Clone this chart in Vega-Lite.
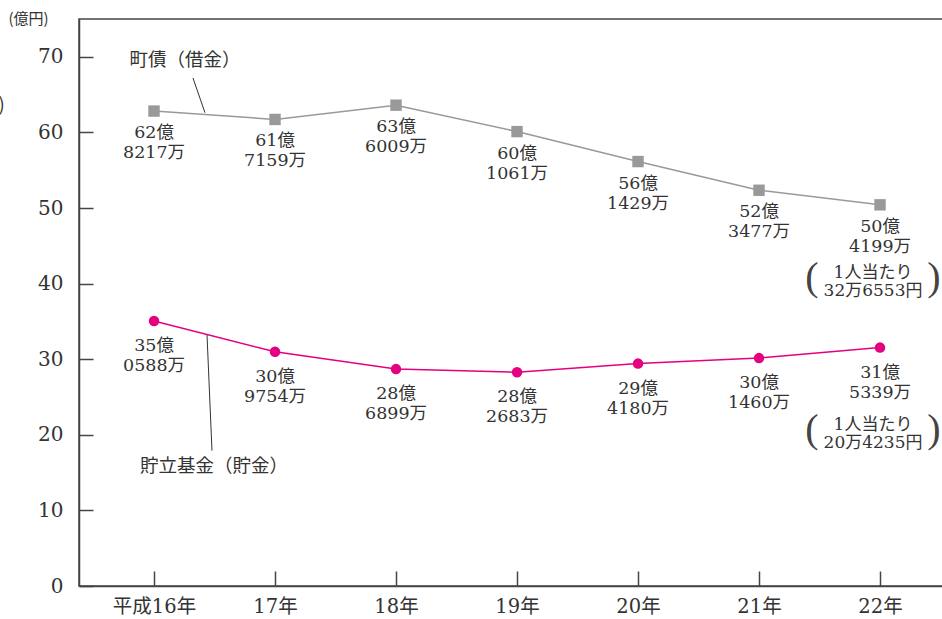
{
  "$schema": "https://vega.github.io/schema/vega-lite/v6.json",
  "width": 866,
  "height": 567,
  "autosize": {"type": "none"},
  "padding": {"left": 79, "top": 19, "right": 0, "bottom": 33},
  "background": "white",
  "config": {
    "view": {"stroke": "#444", "strokeWidth": 1.5},
    "font": "DejaVu Serif",
    "axis": {"domainColor": "#444", "domainWidth": 1.5, "tickColor": "#444", "tickWidth": 1.5, "grid": false, "labelColor": "#333", "labelFont": "DejaVu Serif, Noto Sans CJK JP"}
  },
  "datasets": {
    "main": [
      {"idx": 0, "year": "平成16年", "series": "町債", "value": 62.8217, "label": "62億\n8217万"},
      {"idx": 1, "year": "17年", "series": "町債", "value": 61.7159, "label": "61億\n7159万"},
      {"idx": 2, "year": "18年", "series": "町債", "value": 63.6009, "label": "63億\n6009万"},
      {"idx": 3, "year": "19年", "series": "町債", "value": 60.1061, "label": "60億\n1061万"},
      {"idx": 4, "year": "20年", "series": "町債", "value": 56.1429, "label": "56億\n1429万"},
      {"idx": 5, "year": "21年", "series": "町債", "value": 52.3477, "label": "52億\n3477万"},
      {"idx": 6, "year": "22年", "series": "町債", "value": 50.4199, "label": "50億\n4199万", "note": "1人当たり\n32万6553円"},
      {"idx": 0, "year": "平成16年", "series": "貯立基金", "value": 35.0588, "label": "35億\n0588万"},
      {"idx": 1, "year": "17年", "series": "貯立基金", "value": 30.9754, "label": "30億\n9754万"},
      {"idx": 2, "year": "18年", "series": "貯立基金", "value": 28.6899, "label": "28億\n6899万"},
      {"idx": 3, "year": "19年", "series": "貯立基金", "value": 28.2683, "label": "28億\n2683万"},
      {"idx": 4, "year": "20年", "series": "貯立基金", "value": 29.4180, "label": "29億\n4180万"},
      {"idx": 5, "year": "21年", "series": "貯立基金", "value": 30.1460, "label": "30億\n1460万"},
      {"idx": 6, "year": "22年", "series": "貯立基金", "value": 31.5339, "label": "31億\n5339万", "note": "1人当たり\n20万4235円"}
    ],
    "names": [
      {"name": "町債（借金）", "x": 0.256, "y": 69.6},
      {"name": "貯立基金（貯金）", "x": 0.496, "y": 15.9},
      {"name": ")", "x": -1.26, "y": 63.6}
    ],
    "leaders": [
      {"x": 0.322, "y": 67.2, "x2": 0.421, "y2": 62.6},
      {"x": 0.438, "y": 33.2, "x2": 0.479, "y2": 17.9}
    ]
  },
  "layer": [
    {
      "data": {"name": "main"},
      "mark": {"type": "line", "strokeWidth": 1.5},
      "encoding": {
        "x": {"field": "idx", "type": "quantitative", "scale": {"domain": [-0.62, 6.537], "nice": false, "zero": false},
          "axis": {"values": [0, 1, 2, 3, 4, 5, 6], "title": null, "tickSize": -15, "labelPadding": 26, "labelFontSize": 19.5,
            "labelExpr": "['平成16年','17年','18年','19年','20年','21年','22年'][datum.value]"}},
        "y": {"field": "value", "type": "quantitative", "scale": {"domain": [0, 75], "nice": false},
          "axis": {"values": [0, 10, 20, 30, 40, 50, 60, 70], "title": "(億円)", "titleAngle": 0, "titleAlign": "left", "titleBaseline": "middle", "titleX": -71, "titleY": -1, "titleFont": "Noto Sans CJK JP", "titleFontSize": 15, "titleFontWeight": "normal", "titleColor": "#333", "tickSize": -14, "labelPadding": 30, "labelFontSize": 20}},
        "color": {"field": "series", "type": "nominal", "scale": {"domain": ["町債", "貯立基金"], "range": ["#999999", "#e4007f"]}, "legend": null}
      }
    },
    {
      "data": {"name": "main"},
      "mark": {"type": "point", "filled": true, "opacity": 1},
      "encoding": {
        "x": {"field": "idx", "type": "quantitative"},
        "y": {"field": "value", "type": "quantitative"},
        "color": {"field": "series", "type": "nominal", "legend": null},
        "shape": {"field": "series", "type": "nominal", "scale": {"domain": ["町債", "貯立基金"], "range": ["square", "circle"]}, "legend": null},
        "size": {"field": "series", "type": "nominal", "scale": {"domain": ["町債", "貯立基金"], "range": [130, 110]}, "legend": null}
      }
    },
    {
      "data": {"name": "main"},
      "transform": [{"filter": "datum.series === '町債'"}],
      "mark": {"type": "text", "baseline": "top", "lineBreak": "\n", "dy": 13, "fontSize": 17.5, "lineHeight": 20, "color": "#333", "font": "DejaVu Serif, Noto Sans CJK JP"},
      "encoding": {
        "x": {"field": "idx", "type": "quantitative"},
        "y": {"field": "value", "type": "quantitative"},
        "text": {"field": "label"}
      }
    },
    {
      "data": {"name": "main"},
      "transform": [{"filter": "datum.series === '貯立基金'"}],
      "mark": {"type": "text", "baseline": "top", "lineBreak": "\n", "dy": 16, "fontSize": 17.5, "lineHeight": 20, "color": "#333", "font": "DejaVu Serif, Noto Sans CJK JP"},
      "encoding": {
        "x": {"field": "idx", "type": "quantitative"},
        "y": {"field": "value", "type": "quantitative"},
        "text": {"field": "label"}
      }
    },
    {
      "data": {"name": "main"},
      "transform": [{"filter": "datum.note && datum.series === '町債'"}],
      "mark": {"type": "text", "baseline": "top", "lineBreak": "\n", "dx": -7, "dy": 60, "fontSize": 17, "lineHeight": 18, "color": "#333", "font": "DejaVu Serif, Noto Sans CJK JP"},
      "encoding": {
        "x": {"field": "idx", "type": "quantitative"},
        "y": {"field": "value", "type": "quantitative"},
        "text": {"field": "note"}
      }
    },
    {
      "data": {"name": "main"},
      "transform": [{"filter": "datum.note && datum.series === '貯立基金'"}],
      "mark": {"type": "text", "baseline": "top", "lineBreak": "\n", "dx": -7, "dy": 69, "fontSize": 17, "lineHeight": 18, "color": "#333", "font": "DejaVu Serif, Noto Sans CJK JP"},
      "encoding": {
        "x": {"field": "idx", "type": "quantitative"},
        "y": {"field": "value", "type": "quantitative"},
        "text": {"field": "note"}
      }
    },
    {
      "data": {"name": "main"},
      "transform": [{"filter": "datum.note && datum.series === '町債'"}],
      "mark": {"type": "text", "baseline": "middle", "dx": -68, "dy": 73, "fontSize": 40, "color": "#444", "font": "Liberation Serif", "text": "("},
      "encoding": {"x": {"field": "idx", "type": "quantitative"}, "y": {"field": "value", "type": "quantitative"}}
    },
    {
      "data": {"name": "main"},
      "transform": [{"filter": "datum.note && datum.series === '町債'"}],
      "mark": {"type": "text", "baseline": "middle", "dx": 54, "dy": 73, "fontSize": 40, "color": "#444", "font": "Liberation Serif", "text": ")"},
      "encoding": {"x": {"field": "idx", "type": "quantitative"}, "y": {"field": "value", "type": "quantitative"}}
    },
    {
      "data": {"name": "main"},
      "transform": [{"filter": "datum.note && datum.series === '貯立基金'"}],
      "mark": {"type": "text", "baseline": "middle", "dx": -68, "dy": 82, "fontSize": 40, "color": "#444", "font": "Liberation Serif", "text": "("},
      "encoding": {"x": {"field": "idx", "type": "quantitative"}, "y": {"field": "value", "type": "quantitative"}}
    },
    {
      "data": {"name": "main"},
      "transform": [{"filter": "datum.note && datum.series === '貯立基金'"}],
      "mark": {"type": "text", "baseline": "middle", "dx": 54, "dy": 82, "fontSize": 40, "color": "#444", "font": "Liberation Serif", "text": ")"},
      "encoding": {"x": {"field": "idx", "type": "quantitative"}, "y": {"field": "value", "type": "quantitative"}}
    },
    {
      "data": {"name": "names"},
      "mark": {"type": "text", "baseline": "middle", "fontSize": 18.5, "color": "#333", "font": "Noto Sans CJK JP"},
      "encoding": {
        "x": {"field": "x", "type": "quantitative"},
        "y": {"field": "y", "type": "quantitative"},
        "text": {"field": "name"}
      }
    },
    {
      "data": {"name": "leaders"},
      "mark": {"type": "rule", "color": "#333", "strokeWidth": 1},
      "encoding": {
        "x": {"field": "x", "type": "quantitative"},
        "y": {"field": "y", "type": "quantitative"},
        "x2": {"field": "x2"},
        "y2": {"field": "y2"}
      }
    }
  ]
}
